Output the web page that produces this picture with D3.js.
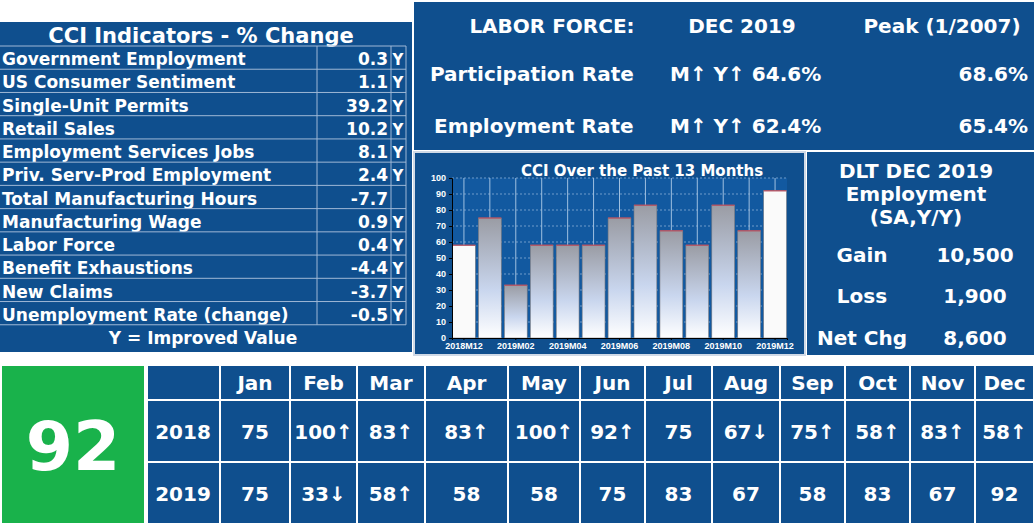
<!DOCTYPE html>
<html><head><meta charset="utf-8">
<script src="https://cdn.jsdelivr.net/npm/d3@7"></script>
<style>body{margin:0;background:#fff}svg{font-family:"DejaVu Sans",Verdana,sans-serif;font-weight:bold}</style>
</head><body><div id="c"></div>
<script>
const indicators = ["Government Employment","US Consumer Sentiment","Single-Unit Permits","Retail Sales","Employment Services Jobs","Priv. Serv-Prod Employment","Total Manufacturing Hours","Manufacturing Wage","Labor Force","Benefit Exhaustions","New Claims","Unemployment Rate (change)"];
const indicatorValues = ["0.3","1.1","39.2","10.2","8.1","2.4","-7.7","0.9","0.4","-4.4","-3.7","-0.5"];
const indicatorFlags = ["Y","Y","Y","Y","Y","Y","","Y","Y","Y","Y","Y"];
const months13 = ["2018M12","2019M01","2019M02","2019M03","2019M04","2019M05","2019M06","2019M07","2019M08","2019M09","2019M10","2019M11","2019M12"];
const cci13 = [58,75,33,58,58,58,75,83,67,58,83,67,92];
const monthNames = ["Jan","Feb","Mar","Apr","May","Jun","Jul","Aug","Sep","Oct","Nov","Dec"];
const row2018 = ["75","100↑","83↑","83↑","100↑","92↑","75","67↓","75↑","58↑","83↑","58↑"];
const row2019 = ["75","33↓","58↑","58","58","75","83","67","58","83","67","92"];

const W=1034,H=524,blue="#0f4f8e";
const svg=d3.select("#c").append("svg").attr("width",W).attr("height",H);

// left indicator panel
svg.append("rect").attr("x",0).attr("y",22).attr("width",412).attr("height",330).attr("fill",blue);
svg.append("text").attr("x",201).attr("y",43).attr("text-anchor","middle").attr("fill","#fff").attr("font-size",21).text("CCI Indicators - % Change");
const ry=d3.scaleBand().domain(d3.range(indicators.length+1)).range([46,348]);
const rows=svg.append("g");
indicators.forEach((d,i)=>{
  const y=ry(i),h=ry.bandwidth();
  rows.append("line").attr("x1",0).attr("x2",406).attr("y1",y).attr("y2",y).attr("stroke","#9fb8d6");
  rows.append("text").attr("x",2).attr("y",y+h-4).attr("fill","#fff").attr("font-size",17).text(d);
  rows.append("text").attr("x",388).attr("y",y+h-4).attr("text-anchor","end").attr("fill","#fff").attr("font-size",17).text(indicatorValues[i]);
  rows.append("text").attr("x",398).attr("y",y+h-4).attr("text-anchor","middle").attr("fill","#fff").attr("font-size",15).text(indicatorFlags[i]);
});
[317,391,406].forEach(c=>rows.append("line").attr("x1",c).attr("x2",c).attr("y1",46).attr("y2",ry(12)).attr("stroke","#9fb8d6"));
rows.append("line").attr("x1",0).attr("x2",406).attr("y1",ry(12)).attr("y2",ry(12)).attr("stroke","#9fb8d6");
rows.append("text").attr("x",203).attr("y",ry(12)+ry.bandwidth()-4).attr("text-anchor","middle").attr("fill","#fff").attr("font-size",17).text("Y = Improved Value");

// top right labor force
svg.append("rect").attr("x",414).attr("y",2).attr("width",620).attr("height",148).attr("fill",blue);
const t=(x,y,txt,a="start",sz=20)=>svg.append("text").attr("x",x).attr("y",y).attr("text-anchor",a).attr("fill","#fff").attr("font-size",sz).text(txt);
t(552,33,"LABOR FORCE:","middle");
t(742,33,"DEC 2019","middle");
t(942,33,"Peak (1/2007)","middle");
t(430,81,"Participation Rate");
t(670,81,"M↑ Y↑  64.6%");
t(1028,81,"68.6%","end");
t(434,133,"Employment Rate");
t(670,133,"M↑ Y↑  62.4%");
t(1028,133,"65.4%","end");

// right lower DLT box
svg.append("rect").attr("x",807).attr("y",152).attr("width",227).attr("height",203).attr("fill",blue);
t(916,178,"DLT DEC 2019","middle");
t(916,201,"Employment","middle");
t(916,224,"(SA,Y/Y)","middle");
[["Gain","10,500",262],["Loss","1,900",303],["Net Chg","8,600",345]].forEach(r=>{t(862,r[2],r[0],"middle");t(975,r[2],r[1],"middle");});

// chart panel
svg.append("rect").attr("x",414).attr("y",152).attr("width",391).attr("height",203).attr("fill",blue).attr("stroke","#cfd9e6").attr("stroke-width",2);
t(642,176,"CCI Over the Past 13 Months","middle",15);
const x=d3.scaleBand().domain(months13).range([452,787]).paddingInner(0.12).paddingOuter(0.02);
const y=d3.scaleLinear().domain([0,100]).range([338,178]);
const g=svg.append("g");
g.append("rect").attr("x",452).attr("y",178).attr("width",335).attr("height",160).attr("fill","#1259a0");
g.selectAll(".gh").data(y.ticks(10)).join("line").attr("x1",452).attr("x2",787).attr("y1",d=>y(d)).attr("y2",d=>y(d)).attr("stroke","#6f9cca").attr("stroke-dasharray","2,2");
g.selectAll(".gv").data(months13).join("line").attr("x1",d=>x(d)+x.bandwidth()/2).attr("x2",d=>x(d)+x.bandwidth()/2).attr("y1",178).attr("y2",338).attr("stroke","#9fc0e0");
const defs=svg.append("defs");
const gr=defs.append("linearGradient").attr("id","bg").attr("x1",0).attr("x2",0).attr("y1",0).attr("y2",1);
gr.append("stop").attr("offset","0").attr("stop-color","#9a9ca4");
gr.append("stop").attr("offset","0.6").attr("stop-color","#c9d6ee");
gr.append("stop").attr("offset","1").attr("stop-color","#ffffff");
g.selectAll(".bar").data(cci13).join("rect").attr("x",(d,i)=>x(months13[i])).attr("y",d=>y(d)).attr("width",x.bandwidth()).attr("height",d=>y(0)-y(d))
 .attr("fill",(d,i)=>i==0||i==12?"#fafafa":"url(#bg)").attr("stroke","#7a7a80").attr("stroke-width",0.6);
g.selectAll(".cap").data(cci13).join("line").attr("x1",(d,i)=>x(months13[i])).attr("x2",(d,i)=>x(months13[i])+x.bandwidth()).attr("y1",d=>y(d)).attr("y2",d=>y(d)).attr("stroke","#c05060").attr("stroke-width",1.2);
svg.append("g").attr("transform","translate(452,0)").call(d3.axisLeft(y).ticks(10).tickSize(3)).call(a=>{a.selectAll("text").attr("fill","#fff").attr("font-size",9);a.selectAll("line,path").attr("stroke","#000");});
svg.append("g").attr("transform","translate(0,338)").call(d3.axisBottom(x).tickValues(months13.filter((d,i)=>i%2==0)).tickSize(2)).call(a=>{a.selectAll("text").attr("fill","#fff").attr("font-size",9);a.selectAll("line,path").attr("stroke","#000");});

// bottom table
svg.append("rect").attr("x",2).attr("y",366).attr("width",142).attr("height",157).attr("fill","#19b24b");
svg.append("text").attr("x",73).attr("y",470).attr("text-anchor","middle").attr("fill","#fff").attr("font-size",68).text(cci13[12]);
const colEdges=[147,220,290,357,425,508,580,645,712,780,845,910,975,1034];
const rowEdges=[365,400,462,524];
const tb=svg.append("g");
tb.append("rect").attr("x",147).attr("y",365).attr("width",887).attr("height",159).attr("fill",blue);
colEdges.forEach(c=>tb.append("line").attr("x1",c).attr("x2",c).attr("y1",365).attr("y2",524).attr("stroke","#fff").attr("stroke-width",2));
rowEdges.forEach(r=>tb.append("line").attr("x1",147).attr("x2",1034).attr("y1",r).attr("y2",r).attr("stroke","#fff").attr("stroke-width",2));
const cx=i=>(colEdges[i+1]+colEdges[i+2])/2;
monthNames.forEach((m,i)=>{
  t(cx(i),390,m,"middle");
  t(cx(i),439,row2018[i],"middle");
  t(cx(i),501,row2019[i],"middle");
});
t(183,439,"2018","middle");t(183,501,"2019","middle");
</script></body></html>
